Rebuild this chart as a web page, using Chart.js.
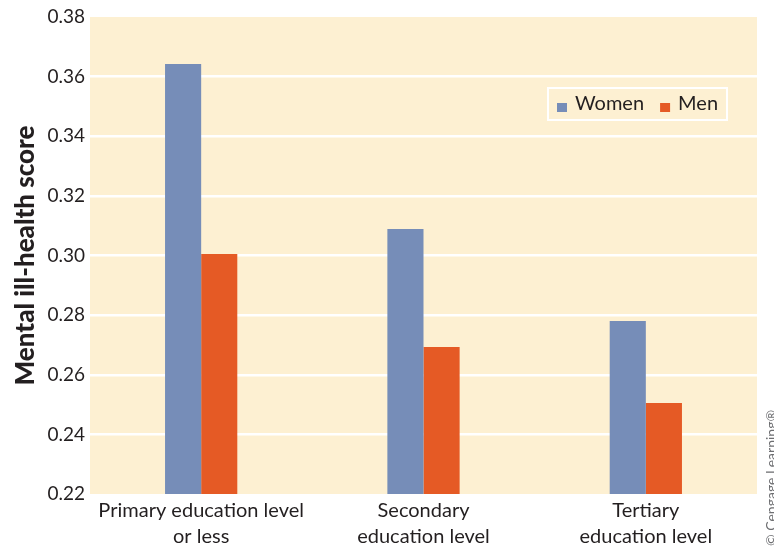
<!DOCTYPE html>
<html>
<head>
<meta charset="utf-8">
<script src="https://cdn.jsdelivr.net/npm/chart.js@4/dist/chart.umd.min.js"></script>
<style>
  html, body { margin: 0; padding: 0; background: #fff; }
  #wrap { width: 774px; height: 547px; }
</style>
</head>
<body>
<div id="wrap"><canvas id="chart" width="774" height="547"></canvas></div>
<script>
// chart data
const categories = [
  ['Primary education level', 'or less'],
  ['Secondary', 'education level'],
  ['Tertiary', 'education level']
];
const seriesNames = ['Women', 'Men'];
const womenScores = [0.3642, 0.3089, 0.2780];
const menScores = [0.3005, 0.2693, 0.2505];
const yTicks = [0.22, 0.24, 0.26, 0.28, 0.30, 0.32, 0.34, 0.36, 0.38];

const FONT = 'Lato, "Open Sans", sans-serif';
const TEXT = '#231f20';
const BLUE = '#768db8';
const ORANGE = '#e55a25';
const CREAM = '#fdf0d2';

// fill the plot area and draw the inset legend + credit line
const decorPlugin = {
  id: 'decor',
  beforeDraw(chart) {
    const { ctx, chartArea: a } = chart;
    ctx.save();
    ctx.fillStyle = CREAM;
    ctx.fillRect(a.left, a.top, a.right - a.left, a.bottom - a.top);
    ctx.restore();
  },
  afterDraw(chart) {
    const { ctx, chartArea: a } = chart;
    ctx.save();
    // legend box
    const bx = a.right - 209, by = a.top + 71, bw = 179, bh = 32;
    ctx.strokeStyle = '#ffffff';
    ctx.lineWidth = 2;
    ctx.strokeRect(bx, by, bw, bh);
    ctx.font = '20px ' + FONT;
    ctx.textBaseline = 'middle';
    ctx.fillStyle = TEXT;
    let x = bx + 9;
    chart.data.datasets.forEach(ds => {
      ctx.fillStyle = ds.backgroundColor;
      ctx.fillRect(x, by + 15, 10, 9);
      ctx.fillStyle = TEXT;
      ctx.fillText(ds.label, x + 18, by + 16);
      x += 18 + ctx.measureText(ds.label).width + 16;
    });
    // credit (partly cut off at the right edge)
    ctx.translate(776, 546);
    ctx.rotate(-Math.PI / 2);
    ctx.font = '14px ' + FONT;
    ctx.fillStyle = '#6d6e71';
    ctx.textBaseline = 'alphabetic';
    ctx.fillText('\u00a9 Cengage Learning\u00ae', 0, 0);
    ctx.restore();
  }
};

new Chart(document.getElementById('chart'), {
  type: 'bar',
  data: {
    labels: categories,
    datasets: [
      { label: seriesNames[0], data: womenScores, backgroundColor: BLUE },
      { label: seriesNames[1], data: menScores, backgroundColor: ORANGE }
    ]
  },
  options: {
    responsive: false,
    animation: false,
    layout: { padding: { top: 17, right: 17, left: 0, bottom: 0 } },
    datasets: { bar: { categoryPercentage: 0.325, barPercentage: 1 } },
    plugins: {
      legend: { display: false },
      tooltip: { enabled: false }
    },
    scales: {
      x: {
        grid: { display: false },
        border: { display: false },
        ticks: {
          color: TEXT,
          font: { family: FONT, size: 20, lineHeight: 1.3 },
          padding: -4,
          maxRotation: 0
        },
        afterFit(scale) { scale.height = 53; }
      },
      y: {
        min: 0.22,
        max: 0.38,
        afterBuildTicks(scale) { scale.ticks = yTicks.map(v => ({ value: v })); },
        grid: {
          color: c => (c.tick && (c.tick.value === 0.22 || c.tick.value === 0.38)) ? 'rgba(0,0,0,0)' : '#ffffff',
          lineWidth: 2.5,
          drawTicks: false
        },
        border: { display: false },
        ticks: {
          color: TEXT,
          font: { family: FONT, size: 19 },
          padding: 5,
          callback: v => v.toFixed(2)
        },
        title: {
          display: true,
          text: 'Mental ill-health score',
          color: TEXT,
          font: { family: FONT, size: 26, weight: 900 },
          padding: { top: 10, bottom: 2 }
        },
        afterFit(scale) { scale.width = 90; }
      }
    }
  },
  plugins: [decorPlugin]
});
</script>
</body>
</html>
